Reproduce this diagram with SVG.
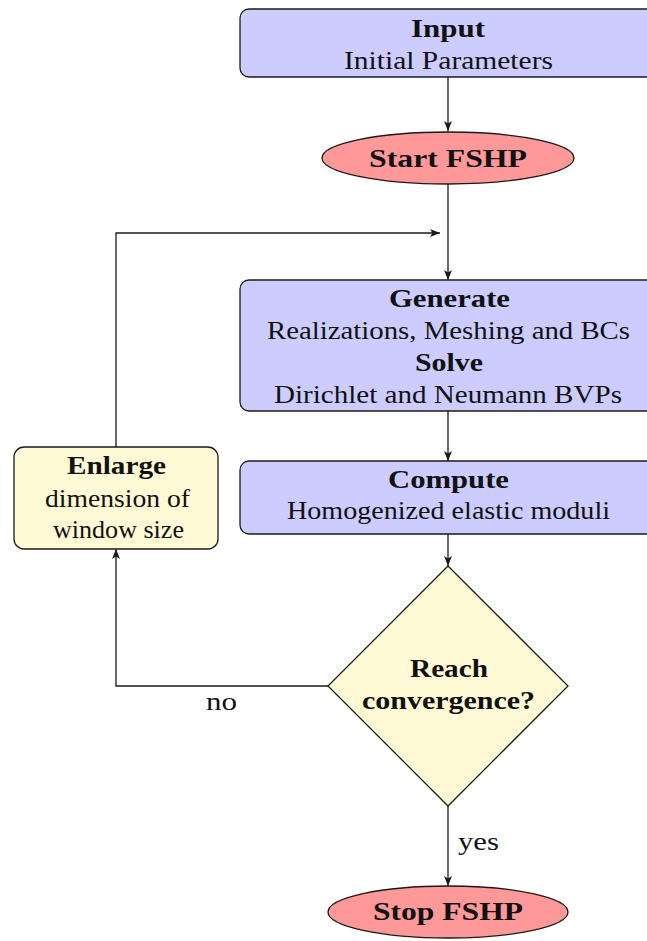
<svg xmlns="http://www.w3.org/2000/svg" width="647" height="941" viewBox="0 0 647 941">
<style>
.box{fill:#ccccff;stroke:#1a1a1a;stroke-width:1.3}
.term{fill:#ff9999;stroke:#1a1a1a;stroke-width:1.3}
.dec{fill:#fffad6;stroke:#1a1a1a;stroke-width:1.3}
.t{font-family:"Liberation Serif","DejaVu Serif",serif;font-size:26px;fill:#111;text-anchor:middle}
.b{font-weight:bold}
.c{fill:none;stroke:#1a1a1a;stroke-width:1.3}
</style>
<defs>
<marker id="ah" viewBox="0 0 10 10" refX="10" refY="5" markerWidth="10" markerHeight="10" markerUnits="userSpaceOnUse" orient="auto">
<path d="M0,1 L10,5 L0,9 L2.5,5 Z" fill="#1a1a1a"/>
</marker>
</defs>
<g id="connectors">
<path class="c" d="M448,77 V131" marker-end="url(#ah)"/>
<path class="c" d="M448,184 V280" marker-end="url(#ah)"/>
<path class="c" d="M116,447 V233 H440" marker-end="url(#ah)"/>
<path class="c" d="M448,411 V461" marker-end="url(#ah)"/>
<path class="c" d="M448,534 V566" marker-end="url(#ah)"/>
<path class="c" d="M328,686 H116 V549" marker-end="url(#ah)"/>
<path class="c" d="M448,806 V886" marker-end="url(#ah)"/>
<text class="t" x="221.5" y="710" textLength="31" lengthAdjust="spacingAndGlyphs">no</text>
<text class="t" x="478.5" y="850" textLength="41" lengthAdjust="spacingAndGlyphs">yes</text>
</g>
<g id="input">
<rect class="box" x="240" y="9" width="416" height="68" rx="9"/>
<text class="t b" x="448" y="37" textLength="74" lengthAdjust="spacingAndGlyphs">Input</text>
<text class="t" x="448.5" y="69" textLength="209" lengthAdjust="spacingAndGlyphs">Initial Parameters</text>
</g>
<g id="start">
<ellipse class="term" cx="448" cy="158" rx="126" ry="26"/>
<text class="t b" x="448" y="167" textLength="158" lengthAdjust="spacingAndGlyphs">Start FSHP</text>
</g>
<g id="generate">
<rect class="box" x="240" y="280" width="416" height="131" rx="9"/>
<text class="t b" x="449.5" y="307" textLength="121" lengthAdjust="spacingAndGlyphs">Generate</text>
<text class="t" x="448.5" y="339" textLength="363" lengthAdjust="spacingAndGlyphs">Realizations, Meshing and BCs</text>
<text class="t b" x="449" y="371" textLength="68" lengthAdjust="spacingAndGlyphs">Solve</text>
<text class="t" x="448" y="403" textLength="348" lengthAdjust="spacingAndGlyphs">Dirichlet and Neumann BVPs</text>
</g>
<g id="compute">
<rect class="box" x="240" y="461" width="416" height="73" rx="9"/>
<text class="t b" x="448.5" y="488" textLength="121" lengthAdjust="spacingAndGlyphs">Compute</text>
<text class="t" x="448.5" y="519" textLength="323" lengthAdjust="spacingAndGlyphs">Homogenized elastic moduli</text>
</g>
<g id="decision">
<polygon class="dec" points="448,566 568,686 448,806 328,686"/>
<text class="t b" x="449" y="677" textLength="78" lengthAdjust="spacingAndGlyphs">Reach</text>
<text class="t b" x="448.5" y="709" textLength="173" lengthAdjust="spacingAndGlyphs">convergence?</text>
</g>
<g id="enlarge">
<rect class="dec" x="14" y="447" width="204" height="102" rx="10"/>
<text class="t b" x="116.5" y="474" textLength="99" lengthAdjust="spacingAndGlyphs">Enlarge</text>
<text class="t" x="117.5" y="507" textLength="145" lengthAdjust="spacingAndGlyphs">dimension of</text>
<text class="t" x="118.5" y="538" textLength="131" lengthAdjust="spacingAndGlyphs">window size</text>
</g>
<g id="stop">
<ellipse class="term" cx="448" cy="912" rx="120" ry="26"/>
<text class="t b" x="448" y="920" textLength="150" lengthAdjust="spacingAndGlyphs">Stop FSHP</text>
</g>
</svg>
